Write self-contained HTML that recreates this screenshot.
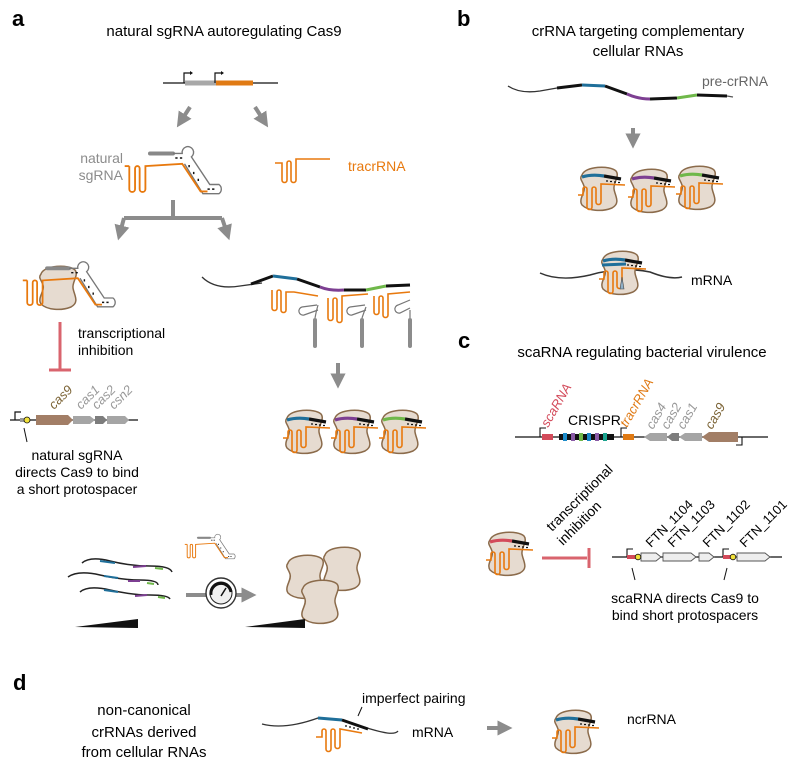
<!DOCTYPE html>
<html><head><meta charset="utf-8"><style>
html,body{margin:0;padding:0;background:#fff}
svg{display:block;font-family:"Liberation Sans",sans-serif}
</style></head><body>
<svg width="800" height="766" viewBox="0 0 800 766" xmlns="http://www.w3.org/2000/svg">
<defs>
<g id="blob"><path d="M5,10 C8,1 33,0 39,6 C43,11 36,18 37,24 C38,31 44,38 35,43 C25,47 11,46 5,40 C1,34 9,27 7,21 C5,15 2,14 5,10 Z" fill="#e6dbd0" stroke="#8b6b4b" stroke-width="1.5"/></g>
<g id="cx">
<use href="#blob"/>
<path d="M5,12 Q15,9 27,11" stroke="currentColor" stroke-width="3.2" fill="none"/>
<path d="M27,11 L44,14" stroke="#111" stroke-width="3.2" fill="none"/>
<path d="M29,16 h2 M33,16.5 h2 M37,17 h2 M41,17.5 h2" stroke="#111" stroke-width="1.2"/>
<path d="M48,20 L24,19 L24,37 a2.5,2.5 0 0 1 -5,0 L19,24 a2,2 0 0 0 -4,0 L15,42 a2.5,2.5 0 0 1 -5,0 L10,24 a2,2 0 0 0 -4,0 L6,30 L1,30" stroke="#e8790e" stroke-width="1.6" fill="none"/>
</g>
<g id="sg">
<path d="M0,3 L20,3" stroke="#888" stroke-width="3.5" stroke-linecap="round"/>
<path d="M20,3 L28,3 a5,5 0 1 1 8,3 L52,30 L60,30 a5,5 0 0 1 0,8 L46,38 L30,12" stroke="#777" stroke-width="1.2" fill="none"/>
<path d="M-18,14 L-18,34 a2.5,2.5 0 0 0 5,0 L-13,16 a2,2 0 0 1 4,0 L-9,34 a2.5,2.5 0 0 0 5,0 L-4,14 L28,12 L44,36 L50,36" stroke="#e8790e" stroke-width="1.6" fill="none"/>
<path d="M-18,14 L-22,14" stroke="#e8790e" stroke-width="1.6"/>
<path d="M22,7 h2 M26,7 h2 M34,13 v2 M38,19 v2 M42,25 v2 M50,34 h2 M54,34 h2" stroke="#111" stroke-width="1.3"/>
</g>
<marker id="ah" viewBox="0 0 10 10" refX="5" refY="5" markerWidth="3.8" markerHeight="3.8" orient="auto"><path d="M0,0 L10,5 L0,10 Z" fill="#8c8c8c"/></marker>
</defs>

<!-- ===== a ===== -->
<text x="12" y="26" font-size="22" font-weight="bold">a</text>
<text x="224" y="36" font-size="15" text-anchor="middle">natural sgRNA autoregulating Cas9</text>
<line x1="163" y1="83" x2="278" y2="83" stroke="#111" stroke-width="1.3"/>
<rect x="185" y="80.5" width="31" height="5" fill="#a8a8a8"/>
<rect x="216" y="80.5" width="37" height="5" fill="#e07a14"/>
<path d="M184,83 V73 H190 M215,83 V73 H221" stroke="#111" stroke-width="1.2" fill="none"/>
<path d="M190,71 L193,73 L190,75Z M221,71 L224,73 L221,75Z" fill="#111"/>
<line x1="190" y1="107" x2="181" y2="121" stroke="#8c8c8c" stroke-width="4" marker-end="url(#ah)"/>
<line x1="255" y1="107" x2="264" y2="121" stroke="#8c8c8c" stroke-width="4" marker-end="url(#ah)"/>
<text x="123" y="163" font-size="14" fill="#8c8c8c" text-anchor="end">natural</text>
<text x="123" y="180" font-size="14" fill="#8c8c8c" text-anchor="end">sgRNA</text>
<g transform="translate(150,150) scale(1.15)"><use href="#sg"/></g>
<path d="M275,163 L282,163 L282,180 a2.5,2.5 0 0 0 5,0 L287,163 a2,2 0 0 1 4,0 L291,180 a2.5,2.5 0 0 0 5,0 L296,159 L330,159" stroke="#e8790e" stroke-width="1.6" fill="none"/>
<text x="348" y="171" font-size="14" fill="#e8790e">tracrRNA</text>
<path d="M173,200 V218 M124,218 H222" stroke="#8c8c8c" stroke-width="4" fill="none"/>
<line x1="124" y1="218" x2="120" y2="233" stroke="#8c8c8c" stroke-width="4" marker-end="url(#ah)"/>
<line x1="222" y1="218" x2="227" y2="233" stroke="#8c8c8c" stroke-width="4" marker-end="url(#ah)"/>
<!-- left complex -->
<use href="#blob" x="36" y="264"/>
<g transform="translate(47,265) scale(1.1)"><use href="#sg"/></g>
<!-- inhibition -->
<path d="M60,322 V370 M49,370 H71" stroke="#d9646e" stroke-width="3" fill="none"/>
<text x="78" y="338" font-size="14">transcriptional</text>
<text x="78" y="355" font-size="14">inhibition</text>
<!-- gene row -->
<line x1="10" y1="420" x2="138" y2="420" stroke="#111" stroke-width="1.2"/>
<path d="M15,420 V412 H21" stroke="#111" stroke-width="1.2" fill="none"/>
<rect x="20" y="418" width="7" height="4" fill="#999"/>
<path d="M36,415 H68 L73,420 L68,425 H36Z" fill="#a27e66"/>
<path d="M73,416 H90 L95,420 L90,424 H73Z" fill="#a5a5a5"/>
<path d="M95,416 H103 L107,420 L103,424 H95Z" fill="#7d7d7d"/>
<path d="M107,416 H125 L129,420 L125,424 H107Z" fill="#a5a5a5"/>
<circle cx="27" cy="420" r="3" fill="#f2e23a" stroke="#111" stroke-width="0.8"/>
<g font-size="13" font-style="italic">
<text transform="translate(54,410) rotate(-45)" fill="#7b6335">cas9</text>
<text transform="translate(81,410) rotate(-45)" fill="#999">cas1</text>
<text transform="translate(97,410) rotate(-45)" fill="#999">cas2</text>
<text transform="translate(114,410) rotate(-45)" fill="#999">csn2</text>
</g>
<line x1="24" y1="428" x2="27" y2="442" stroke="#111" stroke-width="1"/>
<g font-size="14" text-anchor="middle">
<text x="77" y="460">natural sgRNA</text>
<text x="77" y="477">directs Cas9 to bind</text>
<text x="77" y="494">a short protospacer</text>
</g>
<!-- right mRNA -->
<path d="M202,277 Q215,290 240,286 L262,283" stroke="#333" stroke-width="1.3" fill="none"/>
<path d="M251,284 L273,276" stroke="#111" stroke-width="3"/>
<path d="M273,276 L297,279" stroke="#1f6f9a" stroke-width="3"/>
<path d="M297,279 L320,287" stroke="#111" stroke-width="3"/>
<path d="M320,287 Q330,291 344,290" stroke="#7d3f92" stroke-width="3" fill="none"/>
<path d="M344,290 L366,290" stroke="#111" stroke-width="3"/>
<path d="M366,290 L386,286" stroke="#6fb84a" stroke-width="3"/>
<path d="M386,286 L410,285" stroke="#111" stroke-width="3"/>
<g stroke="#e8790e" stroke-width="1.6" fill="none">
<path d="M272,290 L272,308 a2.5,2.5 0 0 0 5,0 L277,292 a2,2 0 0 1 4,0 L281,310 a2.5,2.5 0 0 0 5,0 L286,292 L294,292 L318,296"/>
<path d="M328,298 L328,318 a2.5,2.5 0 0 0 5,0 L333,300 a2,2 0 0 1 4,0 L337,320 a2.5,2.5 0 0 0 5,0 L342,296 L368,294"/>
<path d="M374,296 L374,312 a2.5,2.5 0 0 0 5,0 L379,298 a2,2 0 0 1 4,0 L383,315 a2.5,2.5 0 0 0 5,0 L388,294 L410,292"/>
</g>
<g stroke="#777" stroke-width="1.2" fill="none">
<path d="M317,305 L302,307 a4,4 0 0 0 2,8 L318,310"/>
<path d="M365,305 L350,307 a4,4 0 0 0 2,8 L366,310"/>
<path d="M410,300 L398,305 a4,4 0 0 0 2,8 L410,308"/>
<path d="M318,305 Q316,312 315,318 M366,307 Q364,312 362,318 M410,310 Q410,314 410,318"/>
</g>
<path d="M315,320 V346 M362,320 V346 M410,320 V346" stroke="#8c8c8c" stroke-width="4" stroke-linecap="round"/>
<line x1="338" y1="363" x2="338" y2="381" stroke="#8c8c8c" stroke-width="4" marker-end="url(#ah)"/>
<use href="#cx" x="282" y="408" style="color:#1f6f9a"/>
<use href="#cx" x="330" y="408" style="color:#7d3f92"/>
<use href="#cx" x="378" y="408" style="color:#6fb84a"/>
<!-- bottom row -->
<g fill="none" stroke-width="1.5">
<path d="M82,563 Q90,556 110,561 T150,566 T172,572" stroke="#222"/>
<path d="M68,577 Q78,570 100,575 T140,580 T158,585" stroke="#222"/>
<path d="M80,592 Q88,585 110,590 T150,595 T170,599" stroke="#222"/>
<path d="M100,561 L115,563 M104,576 L118,578 M104,590 L118,592" stroke="#1f6f9a" stroke-width="2"/>
<path d="M133,567 L146,566 M128,581 L140,581 M135,596 L147,595" stroke="#7d3f92" stroke-width="2"/>
<path d="M155,568 L163,569 M147,583 L154,584 M158,597 L165,598" stroke="#6fb84a" stroke-width="2"/>
</g>
<g transform="translate(198,536) scale(0.6)"><use href="#sg"/></g>
<line x1="186" y1="595" x2="249" y2="595" stroke="#8c8c8c" stroke-width="4" marker-end="url(#ah)"/>
<circle cx="221" cy="593" r="15" fill="#fff" stroke="#333" stroke-width="1.4"/>
<circle cx="221" cy="593" r="11" fill="#f0f0f0" stroke="#222" stroke-width="1"/>
<path d="M211,595 A10,10 0 1 1 231,592" stroke="#111" stroke-width="3" fill="none"/>
<path d="M221,596 L226,588" stroke="#111" stroke-width="1.5"/>
<use href="#blob" x="283" y="553"/>
<use href="#blob" x="320" y="545"/>
<use href="#blob" x="298" y="578"/>
<path d="M75,627 L138,619 L138,628Z" fill="#111"/>
<path d="M245,627 L305,619 L305,628Z" fill="#111"/>

<!-- ===== b ===== -->
<text x="457" y="26" font-size="22" font-weight="bold">b</text>
<text x="638" y="36" font-size="15" text-anchor="middle">crRNA targeting complementary</text>
<text x="638" y="56" font-size="15" text-anchor="middle">cellular RNAs</text>
<text x="702" y="86" font-size="14" fill="#666">pre-crRNA</text>
<path d="M508,86 Q520,94 540,91 L557,88" stroke="#333" stroke-width="1.3" fill="none"/>
<path d="M557,88 L582,85" stroke="#111" stroke-width="3"/>
<path d="M582,85 L605,86" stroke="#1f6f9a" stroke-width="3"/>
<path d="M605,86 L627,94" stroke="#111" stroke-width="3"/>
<path d="M627,94 Q638,99 650,99" stroke="#7d3f92" stroke-width="3" fill="none"/>
<path d="M650,99 L677,98" stroke="#111" stroke-width="3"/>
<path d="M677,98 L697,95" stroke="#6fb84a" stroke-width="3"/>
<path d="M697,95 L727,96" stroke="#111" stroke-width="3"/>
<path d="M727,96 L733,97" stroke="#555" stroke-width="1.3"/>
<line x1="633" y1="128" x2="633" y2="141" stroke="#8c8c8c" stroke-width="4" marker-end="url(#ah)"/>
<use href="#cx" x="577" y="165" style="color:#1f6f9a"/>
<use href="#cx" x="627" y="167" style="color:#7d3f92"/>
<use href="#cx" x="675" y="164" style="color:#6fb84a"/>
<path d="M540,273 Q560,282 590,275 Q620,266 650,272 Q670,280 682,277" stroke="#333" stroke-width="1.5" fill="none"/>
<use href="#cx" x="598" y="249" style="color:#1f6f9a"/>
<path d="M602,265 L626,264" stroke="#1f6f9a" stroke-width="3"/>
<path d="M620,289 L622,277 L624,289Z" fill="#8fb0c8" stroke="#444" stroke-width="0.6"/>
<text x="691" y="285" font-size="14">mRNA</text>

<!-- ===== c ===== -->
<text x="458" y="348" font-size="22" font-weight="bold">c</text>
<text x="642" y="357" font-size="15" text-anchor="middle">scaRNA regulating bacterial virulence</text>
<line x1="515" y1="437" x2="768" y2="437" stroke="#111" stroke-width="1.3"/>
<path d="M540,437 V428 H546 M621,437 V428 H627 M742,437 V445 H736" stroke="#111" stroke-width="1.1" fill="none"/>
<rect x="542" y="434" width="11" height="6" fill="#d34a5a"/>
<rect x="559" y="434" width="55" height="6" fill="#111"/>
<g>
<rect x="563" y="433" width="4" height="8" fill="#1c8bc9"/>
<rect x="571" y="433" width="4" height="8" fill="#8a5ba6"/>
<rect x="579" y="433" width="4" height="8" fill="#6fb84a"/>
<rect x="587" y="433" width="4" height="8" fill="#1c8bc9"/>
<rect x="595" y="433" width="4" height="8" fill="#8a5ba6"/>
<rect x="603" y="433" width="4" height="8" fill="#1aa38e"/>
</g>
<rect x="623" y="434" width="11" height="6" fill="#e07a14"/>
<path d="M667,433 H650 L644,437 L650,441 H667Z" fill="#a5a5a5"/>
<path d="M679,433 H672 L667,437 L672,441 H679Z" fill="#7d7d7d"/>
<path d="M702,433 H685 L679,437 L685,441 H702Z" fill="#a5a5a5"/>
<path d="M738,432 H709 L702,437 L709,442 H738Z" fill="#a27e66"/>
<g font-size="13" font-style="italic">
<text transform="translate(548,428) rotate(-60)" fill="#d34a5a">scaRNA</text>
<text transform="translate(627,428) rotate(-60)" fill="#e07a14">tracrRNA</text>
<text transform="translate(653,430) rotate(-60)" fill="#999">cas4</text>
<text transform="translate(668,430) rotate(-60)" fill="#999">cas2</text>
<text transform="translate(684,430) rotate(-60)" fill="#999">cas1</text>
<text transform="translate(712,430) rotate(-60)" fill="#7b6335">cas9</text>
</g>
<text x="568" y="425" font-size="14">CRISPR</text>
<use href="#cx" x="485" y="530" style="color:#d34a5a"/>
<path d="M542,558 H587 M589,548 V568" stroke="#d9646e" stroke-width="3" fill="none"/>
<g font-size="14">
<text transform="translate(552,532) rotate(-45)">transcriptional</text>
<text transform="translate(563,546) rotate(-45)">inhibition</text>
</g>
<line x1="612" y1="557" x2="782" y2="557" stroke="#111" stroke-width="1.2"/>
<path d="M627,557 V549 H633 M723,557 V549 H729" stroke="#111" stroke-width="1.1" fill="none"/>
<rect x="627" y="555" width="10" height="4" fill="#d34a5a"/>
<rect x="723" y="555" width="10" height="4" fill="#d34a5a"/>
<g fill="#eee" stroke="#555" stroke-width="0.9">
<path d="M641,553 H656 L661,557 L656,561 H641Z"/>
<path d="M663,553 H691 L696,557 L691,561 H663Z"/>
<path d="M699,553 H709 L714,557 L709,561 H699Z"/>
<path d="M737,553 H765 L770,557 L765,561 H737Z"/>
</g>
<circle cx="638" cy="557" r="2.8" fill="#f2e23a" stroke="#111" stroke-width="0.8"/>
<circle cx="733" cy="557" r="2.8" fill="#f2e23a" stroke="#111" stroke-width="0.8"/>
<g font-size="13">
<text transform="translate(651,548) rotate(-45)">FTN_1104</text>
<text transform="translate(673,548) rotate(-45)">FTN_1103</text>
<text transform="translate(708,548) rotate(-45)">FTN_1102</text>
<text transform="translate(745,548) rotate(-45)">FTN_1101</text>
</g>
<path d="M632,568 L635,580 M727,568 L724,580" stroke="#111" stroke-width="1"/>
<text x="685" y="603" font-size="14" text-anchor="middle">scaRNA directs Cas9 to</text>
<text x="685" y="620" font-size="14" text-anchor="middle">bind short protospacers</text>

<!-- ===== d ===== -->
<text x="13" y="690" font-size="22" font-weight="bold">d</text>
<g font-size="15" text-anchor="middle">
<text x="144" y="715">non-canonical</text>
<text x="144" y="737">crRNAs derived</text>
<text x="144" y="757">from cellular RNAs</text>
</g>
<path d="M262,724 Q285,730 318,718 L342,720 Q372,730 382,732 Q395,735 398,731" stroke="#333" stroke-width="1.3" fill="none"/>
<path d="M318,718 L342,720" stroke="#1f6f9a" stroke-width="3"/>
<path d="M342,720 L368,729" stroke="#111" stroke-width="3"/>
<path d="M345,726 h2 M349,727 h2 M353,728 h2 M357,729 h2" stroke="#111" stroke-width="1.2"/>
<path d="M362,733 L340,729 L340,746 a2.5,2.5 0 0 1 -5,0 L335,731 a2,2 0 0 0 -4,0 L331,749 a2.5,2.5 0 0 1 -5,0 L326,731 a2,2 0 0 0 -4,0 L322,737 L316,737" stroke="#e8790e" stroke-width="1.6" fill="none"/>
<line x1="362" y1="707" x2="358" y2="716" stroke="#111" stroke-width="1"/>
<text x="362" y="703" font-size="14">imperfect pairing</text>
<text x="412" y="737" font-size="14">mRNA</text>
<line x1="487" y1="728" x2="505" y2="728" stroke="#8c8c8c" stroke-width="4" marker-end="url(#ah)"/>
<use href="#cx" x="551" y="708" style="color:#1f6f9a"/>
<text x="627" y="724" font-size="14">ncrRNA</text>
</svg>
</body></html>
